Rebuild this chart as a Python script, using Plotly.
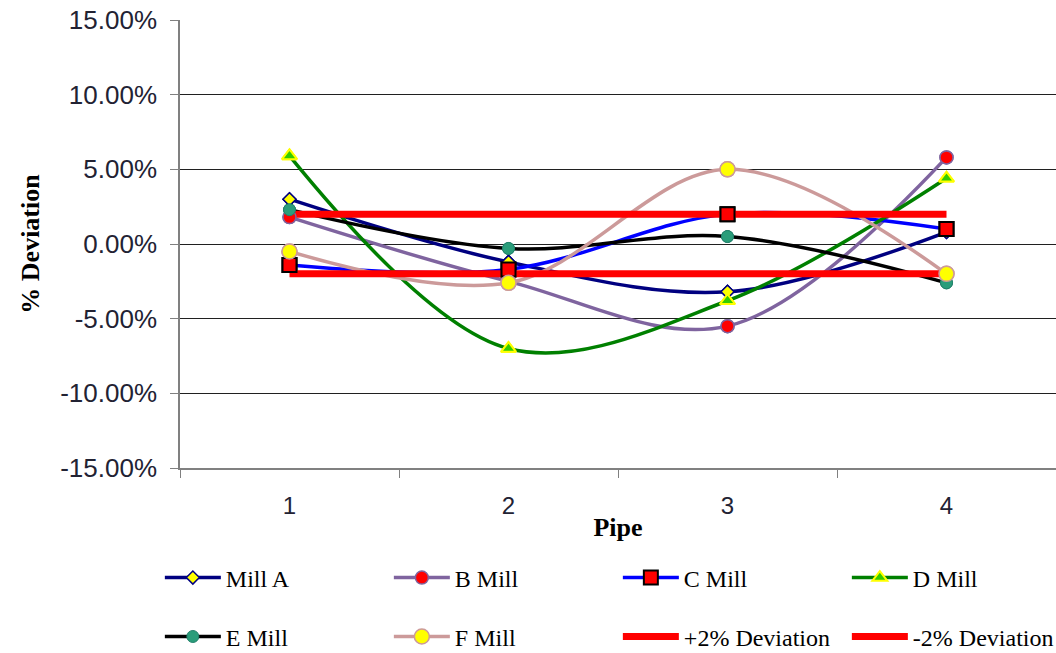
import plotly.graph_objects as go

# Pipe categories and % deviation per mill
pipes = ["1", "2", "3", "4"]
mill_a = [3.0, -1.2, -3.2, 0.8]
mill_b = [1.8, -2.5, -5.5, 5.8]
mill_c = [-1.4, -1.7, 2.0, 1.0]
mill_d = [5.9, -7.0, -3.8, 4.4]
mill_e = [2.3, -0.3, 0.5, -2.6]
mill_f = [-0.5, -2.6, 5.0, -2.0]
plus_dev = [2.0, 2.0, 2.0, 2.0]
minus_dev = [-2.0, -2.0, -2.0, -2.0]

y_ticks = [-15, -10, -5, 0, 5, 10, 15]
y_tick_labels = ["-15.00%", "-10.00%", "-5.00%", "0.00%", "5.00%", "10.00%", "15.00%"]

SERIF = "Liberation Serif"
SANS = "Liberation Sans"

series = [
    dict(name="Mill A", y=mill_a, line="#000080", legend="legend",
         marker=dict(symbol="diamond", size=10, color="#ffff00", line=dict(color="#000080", width=1.5))),
    dict(name="B Mill", y=mill_b, line="#7f649f", legend="legend",
         marker=dict(symbol="circle", size=13, color="#ff0000", line=dict(color="#7f649f", width=1.5))),
    dict(name="C Mill", y=mill_c, line="#0000ff", legend="legend",
         marker=dict(symbol="square", size=14, color="#ff0000", line=dict(color="#000000", width=2))),
    dict(name="D Mill", y=mill_d, line="#008000", legend="legend",
         marker=dict(symbol="triangle-up", size=13, color="#33cc00", line=dict(color="#ffff00", width=2))),
    dict(name="E Mill", y=mill_e, line="#000000", legend="legend2",
         marker=dict(symbol="circle", size=12, color="#2a9d7a", line=dict(color="#22806a", width=1))),
    dict(name="F Mill", y=mill_f, line="#cc9a9a", legend="legend2",
         marker=dict(symbol="circle", size=15, color="#ffff00", line=dict(color="#cc9a9a", width=1.5))),
]

fig = go.Figure()

# Smoothed mill lines with markers (these also feed the legend)
for s in series:
    fig.add_trace(go.Scatter(
        x=pipes, y=s["y"], name=s["name"], mode="lines+markers",
        line=dict(color=s["line"], width=3.5, shape="spline"),
        marker=s["marker"], legend=s["legend"],
    ))

# +/-2% tolerance bands
fig.add_trace(go.Scatter(x=pipes, y=plus_dev, name="+2% Deviation", mode="lines",
                         line=dict(color="#ff0000", width=7), legend="legend2"))
fig.add_trace(go.Scatter(x=pipes, y=minus_dev, name="-2% Deviation", mode="lines",
                         line=dict(color="#ff0000", width=7), legend="legend2"))

# Markers redrawn above the tolerance lines
for s in series:
    fig.add_trace(go.Scatter(
        x=pipes, y=s["y"], mode="markers", marker=s["marker"],
        showlegend=False, hoverinfo="skip",
    ))

legend_common = dict(
    orientation="h", xanchor="left", yanchor="middle",
    entrywidth=158, entrywidthmode="pixels", itemwidth=56,
    font=dict(family=SERIF, size=24, color="#000000"),
    bgcolor="rgba(0,0,0,0)", borderwidth=0, tracegroupgap=0,
)

fig.update_layout(
    width=1056, height=653,
    margin=dict(l=180, r=0, t=20, b=185, autoexpand=False),
    paper_bgcolor="white", plot_bgcolor="white",
    xaxis=dict(
        type="category", range=[-0.5, 3.5],
        showgrid=False, zeroline=False,
        showline=True, linecolor="#808080", linewidth=1.5,
        ticks="outside", tickson="boundaries", ticklen=8, tickcolor="#808080",
        ticklabelstandoff=15,
        tickfont=dict(family=SANS, size=24, color="#222233"),
        title=dict(text="<b>Pipe</b>", standoff=0,
                   font=dict(family=SERIF, size=26, color="#000000")),
    ),
    yaxis=dict(
        range=[-15, 15], tickvals=y_ticks, ticktext=y_tick_labels,
        showgrid=True, gridcolor="#202020", gridwidth=1.2,
        zeroline=False,
        showline=True, linecolor="#808080", linewidth=1.5,
        ticks="outside", ticklen=8, tickcolor="#808080",
        ticklabelstandoff=8,
        tickfont=dict(family=SANS, size=26, color="#222233"),
        title=dict(text="<b>% Deviation</b>", standoff=13,
                   font=dict(family=SERIF, size=26, color="#000000")),
    ),
    legend=dict(x=-0.023, y=-0.2455, **legend_common),
    legend2=dict(x=-0.023, y=-0.377, **legend_common),
    showlegend=True,
)

fig.write_html("out.html")
